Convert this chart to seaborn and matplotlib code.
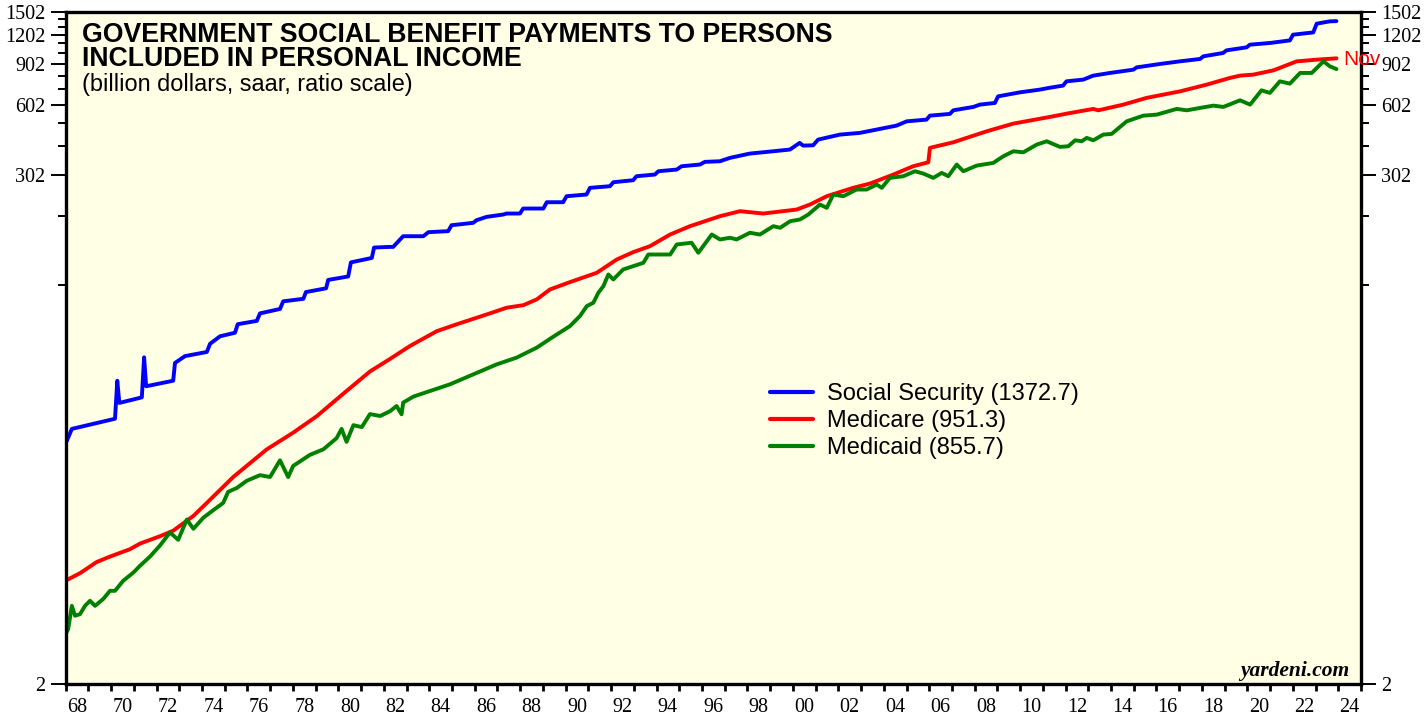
import pandas as pd
import matplotlib
matplotlib.use("Agg")
import matplotlib.pyplot as plt
from matplotlib.ticker import FixedLocator, FixedFormatter, NullFormatter
import seaborn as sns

# values (billion dollars, saar)
ss_year = [1968.00, 1968.27, 1970.17, 1970.27, 1970.36, 1971.35, 1971.45, 1971.54,
           1972.73, 1972.81, 1973.25, 1974.21, 1974.35, 1974.79, 1975.45, 1975.57,
           1976.41, 1976.55, 1977.43, 1977.57, 1978.46, 1978.57, 1979.46, 1979.55,
           1980.43, 1980.55, 1981.47, 1981.57, 1982.26, 1982.41, 1982.85, 1983.74,
           1983.96, 1984.83, 1984.98, 1985.93, 1986.08, 1986.53, 1987.26, 1987.40,
           1987.99, 1988.13, 1989.02, 1989.17, 1989.89, 1990.04, 1990.92, 1991.07,
           1991.95, 1992.10, 1992.97, 1993.12, 1993.93, 1994.08, 1994.89, 1995.10,
           1995.91, 1996.13, 1996.79, 1997.23, 1998.10, 1999.13, 1999.87, 2000.30,
           2000.45, 2000.89, 2001.11, 2002.07, 2002.94, 2003.68, 2004.56, 2005.01,
           2005.88, 2006.03, 2006.91, 2007.06, 2007.94, 2008.23, 2008.89, 2009.03,
           2009.99, 2010.86, 2011.30, 2011.89, 2012.04, 2012.78, 2013.21, 2013.95,
           2014.98, 2015.13, 2016.15, 2017.03, 2017.92, 2018.06, 2018.93, 2019.08,
           2019.97, 2020.11, 2021.00, 2021.87, 2022.01, 2022.90, 2023.05, 2023.62,
           2023.92]
ss_value = [21.4, 24.7, 27.3, 39.7, 31.9, 33.7, 50.0, 37.6,
            39.7, 47.3, 50.6, 52.7, 57.1, 61.5, 63.7, 69.3,
            71.6, 77.1, 80.5, 86.8, 89.0, 95.1, 98.7, 107.2,
            110.9, 127.4, 133.1, 147.5, 148.4, 148.4, 164.9, 164.9,
            171.6, 173.3, 183.8, 188.1, 193.1, 199.6, 204.2, 206.2,
            206.2, 216.6, 216.6, 230.5, 230.5, 244.5, 248.7, 265.6,
            269.9, 280.7, 286.3, 297.8, 302.8, 312.8, 318.0, 328.5,
            334.1, 343.1, 345.1, 356.8, 372.2, 380.8, 387.3, 413.6,
            402.7, 403.9, 427.2, 448.8, 456.3, 471.5, 490.3, 511.5,
            520.1, 540.9, 550.2, 570.1, 589.4, 603.0, 613.0, 654.1,
            680.6, 698.9, 712.0, 727.3, 758.6, 771.6, 802.0, 823.8,
            850.8, 870.4, 900.0, 923.6, 945.7, 970.5, 1002.9, 1029.2,
            1060.5, 1088.5, 1107.0, 1135.3, 1201.2, 1228.4, 1338.8, 1369.7,
            1372.7]

mc_year = [1968.00, 1968.63, 1969.36, 1969.95, 1970.83, 1971.27, 1972.15, 1972.73,
           1973.62, 1974.21, 1975.37, 1976.85, 1978.01, 1979.05, 1980.21, 1981.39,
           1982.27, 1983.15, 1984.33, 1985.20, 1986.67, 1987.40, 1988.14, 1988.73,
           1989.31, 1990.19, 1991.37, 1992.25, 1992.97, 1993.71, 1994.60, 1995.47,
           1996.79, 1997.67, 1998.70, 2000.17, 2000.75, 2001.49, 2002.65, 2003.39,
           2004.42, 2005.29, 2005.96, 2006.03, 2007.06, 2008.53, 2009.70, 2011.31,
           2012.05, 2013.22, 2013.44, 2014.54, 2015.56, 2017.04, 2018.21, 2019.23,
           2019.68, 2020.26, 2021.15, 2022.17, 2023.05, 2023.92]
mc_value = [5.54, 5.96, 6.65, 7.02, 7.55, 7.98, 8.58, 9.06,
            10.48, 11.91, 15.37, 20.2, 23.8, 28.0, 34.9, 43.5,
            49.2, 55.9, 64.7, 69.2, 77.1, 81.5, 83.6, 88.5,
            97.6, 104.9, 115.0, 131.1, 140.9, 149.5, 167.7, 182.0,
            200.8, 211.0, 206.2, 214.5, 225.3, 244.5, 265.6, 277.0,
            302.8, 328.5, 341.7, 393.8, 416.1, 463.6, 500.2, 534.2,
            551.8, 578.0, 570.1, 603.0, 644.2, 687.4, 734.2, 784.4,
            802.4, 810.4, 845.5, 923.6, 939.2, 951.3]

md_year = [1968.00, 1968.11, 1968.27, 1968.41, 1968.63, 1968.85, 1969.07, 1969.29,
           1969.65, 1969.95, 1970.17, 1970.53, 1970.98, 1971.27, 1971.71, 1972.15,
           1972.59, 1972.95, 1973.33, 1973.62, 1974.06, 1974.49, 1974.93, 1975.15,
           1975.52, 1975.97, 1976.55, 1976.99, 1977.43, 1977.79, 1978.01, 1978.75,
           1979.34, 1979.92, 1980.14, 1980.36, 1980.66, 1981.03, 1981.39, 1981.84,
           1982.27, 1982.56, 1982.78, 1982.85, 1983.30, 1984.03, 1984.91, 1985.94,
           1986.97, 1987.84, 1988.73, 1989.46, 1990.19, 1990.63, 1990.93, 1991.22,
           1991.44, 1991.66, 1991.88, 1992.10, 1992.53, 1992.97, 1993.42, 1993.64,
           1994.60, 1994.89, 1995.54, 1995.84, 1996.43, 1996.79, 1997.24, 1997.52,
           1998.11, 1998.55, 1999.14, 1999.44, 1999.88, 2000.31, 2000.68, 2001.19,
           2001.49, 2001.78, 2002.22, 2002.80, 2003.25, 2003.69, 2003.91, 2004.27,
           2004.86, 2005.37, 2005.74, 2006.18, 2006.55, 2006.84, 2007.21, 2007.50,
           2008.09, 2008.82, 2009.26, 2009.70, 2010.14, 2010.73, 2011.17, 2011.75,
           2012.12, 2012.42, 2012.71, 2012.93, 2013.22, 2013.66, 2014.03, 2014.69,
           2015.42, 2016.01, 2016.89, 2017.33, 2017.92, 2018.51, 2018.94, 2019.68,
           2020.12, 2020.62, 2020.99, 2021.43, 2021.87, 2022.32, 2022.83, 2023.35,
           2023.63, 2023.92]
md_value = [3.27, 3.44, 4.32, 3.92, 3.98, 4.32, 4.54, 4.32,
            4.62, 5.01, 5.01, 5.53, 6.00, 6.41, 7.02, 7.83,
            8.90, 8.28, 10.11, 9.23, 10.30, 11.08, 11.91, 13.29,
            13.78, 14.82, 15.66, 15.37, 18.12, 15.37, 17.15, 19.13,
            20.2, 22.54, 24.70, 21.74, 25.62, 25.14, 28.58, 28.05,
            29.38, 30.95, 28.52, 32.0, 33.96, 35.88, 38.32, 42.28,
            46.66, 49.84, 55.0, 61.3, 68.0, 75.1, 82.8, 85.6,
            94.5, 100.8, 113.1, 107.7, 118.8, 122.7, 126.9, 137.7,
            137.7, 152.0, 154.6, 140.1, 167.7, 159.7, 162.4, 159.7,
            170.6, 167.7, 182.0, 179.2, 191.2, 194.4, 204.2, 225.3,
            218.1, 248.6, 244.5, 261.2, 261.2, 274.4, 265.6, 293.0,
            297.8, 312.8, 305.7, 293.0, 307.8, 297.8, 334.0, 312.8,
            330.7, 339.6, 362.5, 380.8, 377.0, 406.7, 420.2, 397.6,
            400.0, 424.3, 420.2, 434.4, 424.3, 448.8, 452.0, 511.5,
            540.9, 546.4, 578.0, 570.1, 583.8, 597.1, 589.4, 629.2,
            603.0, 694.2, 676.7, 758.6, 741.6, 823.8, 823.8, 923.6,
            879.2, 855.7]

series_names = ["Social Security (1372.7)", "Medicare (951.3)", "Medicaid (855.7)"]
series_colors = ["#0000ff", "#ff0000", "#008000"]

y_major = [2, 302, 602, 902, 1202, 1502]
y_minor = [102, 202, 402, 502, 702, 802, 1002, 1102, 1302, 1402]
year_ticks = list(range(1968, 2026))
label_years = list(range(1968, 2025, 2))

W, H = 1428, 717


def fx(px):
    return px / W


def fy(py):
    return 1 - py / H


def main():
    sns.set_style("ticks")
    plt.rcParams['font.family'] = ['Liberation Sans', 'DejaVu Sans']
    plt.rcParams['text.color'] = 'black'

    frames = []
    for name, yrs, vals in zip(series_names,
                               [ss_year, mc_year, md_year],
                               [ss_value, mc_value, md_value]):
        frames.append(pd.DataFrame({"year": yrs, "value": vals, "series": name}))
    df = pd.concat(frames, ignore_index=True)

    fig = plt.figure(figsize=(W / 100, H / 100), dpi=100)
    fig.patch.set_facecolor("white")
    ax = fig.add_axes([fx(65.7), fy(684), fx(1361 - 65.7), (684 - 12) / H])
    ax.set_facecolor("#ffffe6")

    sns.lineplot(data=df, x="year", y="value", hue="series", hue_order=series_names,
                 palette=series_colors, estimator=None, linewidth=2.8, ax=ax,
                 legend=True)

    ax.set_yscale("log")
    ax.set_ylim(2, 1502)
    ax.set_xlim(1968, 2025)
    ax.set_xlabel("")
    ax.set_ylabel("")

    # y axis: ratio scale, labels both sides
    ax.yaxis.set_major_locator(FixedLocator(y_major))
    ax.yaxis.set_major_formatter(FixedFormatter([str(v) for v in y_major]))
    ax.yaxis.set_minor_locator(FixedLocator(y_minor))
    ax.yaxis.set_minor_formatter(NullFormatter())
    ax.tick_params(axis="y", which="both", left=True, right=True,
                   labelleft=True, labelright=True, direction="out", color="black")
    ax.tick_params(axis="y", which="major", length=10.5, width=1.4, pad=4,
                   labelsize=14.5, labelcolor="black")
    ax.tick_params(axis="y", which="minor", length=5.5, width=1.4)

    # x axis: a tick per year, labels every other year centred on the year
    ax.xaxis.set_major_locator(FixedLocator(year_ticks))
    ax.xaxis.set_major_formatter(NullFormatter())
    ax.xaxis.set_minor_locator(FixedLocator([y + 0.5 for y in label_years]))
    ax.xaxis.set_minor_formatter(FixedFormatter([f"{y % 100:02d}" for y in label_years]))
    ax.tick_params(axis="x", which="major", length=5, width=2, direction="out",
                   color="black", bottom=True, top=False)
    ax.tick_params(axis="x", which="minor", length=0, pad=10, labelsize=14.5,
                   labelcolor="black")
    for lab in ax.get_xticklabels(minor=True):
        lab.set_family("Liberation Serif")
    for t in ax.yaxis.get_major_ticks():
        t.label1.set_family("Liberation Serif")
        t.label2.set_family("Liberation Serif")

    for side in ["left", "right", "top", "bottom"]:
        ax.spines[side].set_visible(True)
        ax.spines[side].set_color("black")
        ax.spines[side].set_linewidth(2.4)

    leg = ax.legend(loc="upper left", bbox_to_anchor=(fx(770), fy(383)),
                    bbox_transform=fig.transFigure, frameon=False, fontsize=17,
                    handlelength=1.8, handletextpad=0.6, labelspacing=0.22,
                    borderpad=0, borderaxespad=0)
    for line in leg.get_lines():
        line.set_linewidth(3)
    for txt in leg.get_texts():
        txt.set_color("black")

    # titles
    fig.text(fx(82), fy(41.5), "GOVERNMENT SOCIAL BENEFIT PAYMENTS TO PERSONS",
             fontsize=19.2, fontweight="bold", va="baseline", ha="left")
    fig.text(fx(82), fy(65.5), "INCLUDED IN PERSONAL INCOME",
             fontsize=19.2, fontweight="bold", va="baseline", ha="left")
    fig.text(fx(82), fy(91.5), "(billion dollars, saar, ratio scale)",
             fontsize=16.9, va="baseline", ha="left")

    fig.text(fx(1343), fy(65), "Nov", color="#ff0000", fontsize=15,
             va="baseline", ha="left")
    fig.text(fx(1349), fy(676), "yardeni.com", family="Liberation Serif",
             fontweight="bold", style="italic", fontsize=15.5,
             va="baseline", ha="right")

    fig.savefig("out.png", dpi=100)
    plt.close(fig)


if __name__ == "__main__":
    main()
